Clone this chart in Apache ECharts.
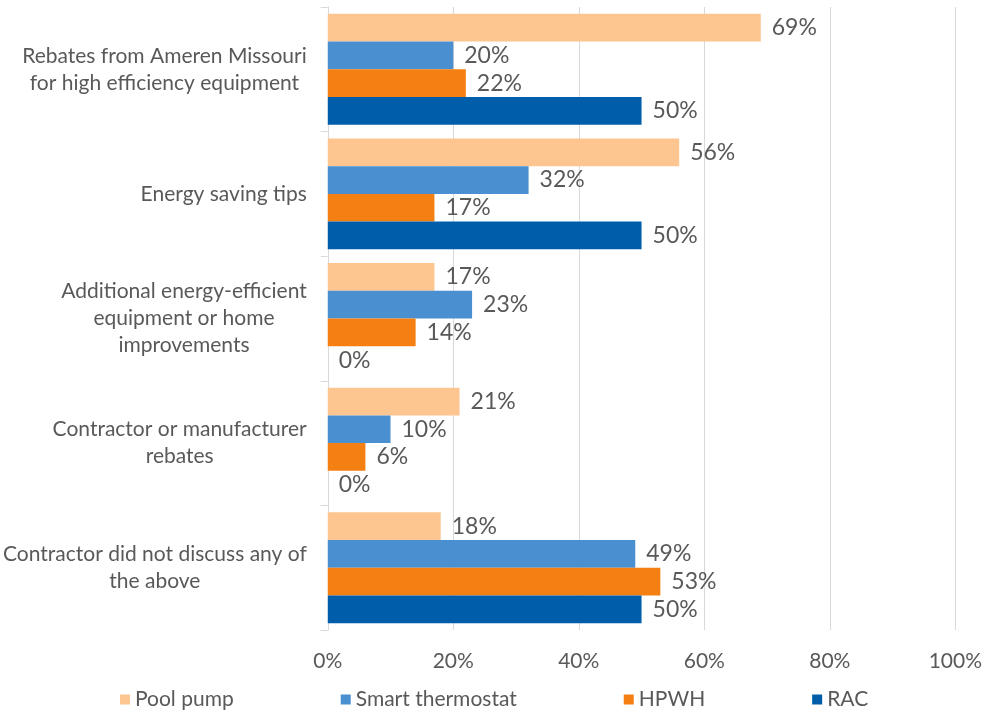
<!DOCTYPE html>
<html>
<head>
<meta charset="utf-8">
<script src="https://cdn.jsdelivr.net/npm/echarts@6/dist/echarts.min.js"></script>
<style>
  html, body { margin: 0; padding: 0; background: #ffffff; }
  #chart { width: 985px; height: 713px; }
</style>
</head>
<body>
<div id="chart"></div>
<script>
// Topics the contractor discussed, top to bottom
const categories = [
  'Rebates from Ameren Missouri\nfor high efficiency equipment',
  'Energy saving tips',
  'Additional energy-efficient\nequipment or home\nimprovements',
  'Contractor or manufacturer\nrebates',
  'Contractor did not discuss any of\nthe above'
];

// Share of respondents (%) per equipment group
const poolPump = [69, 56, 17, 21, 18];
const smartThermostat = [20, 32, 23, 10, 49];
const hpwh = [22, 17, 14, 6, 53];
const rac = [50, 50, 0, 0, 50];

const seriesNames = ['Pool pump', 'Smart thermostat', 'HPWH', 'RAC'];
const seriesColors = ['#FDC58F', '#4A8FCF', '#F47F12', '#005DAA'];
const seriesValues = [poolPump, smartThermostat, hpwh, rac];

const xTicks = [0, 20, 40, 60, 80, 100];

const FONT = 'Lato, "Open Sans", sans-serif';
const GREY_TEXT = '#595959';

const chart = echarts.init(document.getElementById('chart'), null, { renderer: 'canvas' });

chart.setOption({
  animation: false,
  backgroundColor: '#ffffff',
  textStyle: { fontFamily: FONT },
  grid: { left: 326, right: 27, top: 7, bottom: 83, containLabel: false },
  legend: {
    left: 115,
    bottom: -2,
    icon: 'rect',
    itemWidth: 10,
    itemHeight: 10,
    itemGap: 107,
    textStyle: { color: GREY_TEXT, fontSize: 21, fontFamily: FONT },
    data: seriesNames
  },
  xAxis: {
    type: 'value',
    min: xTicks[0],
    max: xTicks[xTicks.length - 1],
    interval: 20,
    axisLine: { show: false },
    axisTick: { show: false },
    splitLine: { show: true, lineStyle: { color: '#D9D9D9', width: 1 } },
    axisLabel: {
      color: GREY_TEXT,
      fontSize: 21,
      fontFamily: FONT,
      margin: 21,
      formatter: v => v + '%'
    }
  },
  yAxis: {
    type: 'category',
    inverse: true,
    data: categories,
    axisLine: { show: true, lineStyle: { color: '#D9D9D9', width: 1 } },
    axisTick: { show: true, length: 7, lineStyle: { color: '#D9D9D9' } },
    axisLabel: {
      margin: 21,
      align: 'right',
      formatter: v => v.split('\n').map(line => '{c|' + line + '}').join('\n'),
      rich: {
        c: { align: 'center', color: GREY_TEXT, fontSize: 21, fontFamily: FONT, lineHeight: 27 }
      }
    }
  },
  series: seriesNames.map((name, i) => ({
    name: name,
    type: 'bar',
    data: seriesValues[i],
    barGap: '0%',
    barCategoryGap: '11%',
    itemStyle: { color: seriesColors[i] },
    label: {
      show: true,
      position: 'right',
      distance: 11,
      color: GREY_TEXT,
      fontSize: 23,
      fontFamily: FONT,
      formatter: p => p.value + '%'
    }
  }))
});
</script>
</body>
</html>
